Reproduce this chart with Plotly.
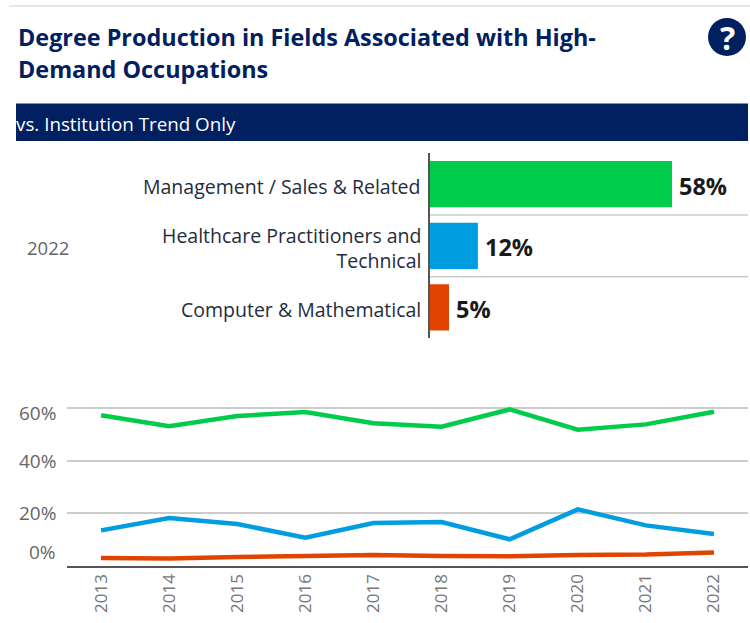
import plotly.graph_objects as go

W, H = 750, 623
NAVY = "#012060"
GREEN, BLUE, RED = "#00cc4b", "#009de0", "#e04400"
FONT = "Open Sans"

title_lines = ["Degree Production in Fields Associated with High-", "Demand Occupations"]
fields = ["Management / Sales & Related", "Healthcare Practitioners and<br>Technical", "Computer & Mathematical"]
bar_values = [58.6, 11.6, 4.6]
bar_labels = ["58%", "12%", "5%"]
bar_colors = [GREEN, BLUE, RED]
years = ["2013", "2014", "2015", "2016", "2017", "2018", "2019", "2020", "2021", "2022"]
management = [57.3, 53.1, 57.0, 58.5, 54.2, 52.9, 59.5, 51.8, 53.8, 58.6]
healthcare = [13.4, 18.1, 15.8, 10.6, 16.2, 16.6, 10.0, 21.4, 15.3, 12.0]
computer = [2.9, 2.7, 3.2, 3.4, 4.0, 3.6, 3.5, 4.0, 4.2, 5.0]
y_ticks = [0, 20, 40, 60]
y_tick_labels = ["0%", "20%", "40%", "60%"]
y_label_shift = [14, 0, 0, -5]


def py(v):
    return 1 - v / H


def px(v):
    return v / W


fig = go.Figure()
fig.add_trace(go.Bar(x=bar_values, y=fields, orientation="h", marker=dict(color=bar_colors, line_width=0),
                     width=0.75, xaxis="x", yaxis="y", showlegend=False))
for name, vals, col in [("Management / Sales & Related", management, GREEN),
                        ("Healthcare Practitioners and Technical", healthcare, BLUE),
                        ("Computer & Mathematical", computer, RED)]:
    fig.add_trace(go.Scatter(x=years, y=vals, name=name, mode="lines", line=dict(color=col, width=4.5),
                             xaxis="x2", yaxis="y2", showlegend=False))

ann = []
for line, yc in zip(title_lines, (37, 69)):
    ann.append(dict(text=f"<b>{line}</b>", xref="paper", yref="paper", x=px(16), y=py(yc), xanchor="left",
                    yanchor="middle", showarrow=False, font=dict(family=FONT, size=23.4, color=NAVY)))
ann.append(dict(text="vs. Institution Trend Only", xref="paper", yref="paper", x=px(14), y=py(124), xanchor="left",
                yanchor="middle", showarrow=False, font=dict(family=FONT, size=18.8, color="#ffffff")))
ann.append(dict(text="<b>?</b>", xref="paper", yref="paper", x=px(727), y=py(37), xanchor="center", yanchor="middle",
                showarrow=False, font=dict(family=FONT, size=32, color="#ffffff")))
ann.append(dict(text="2022", xref="paper", yref="paper", x=px(48), y=py(248), xanchor="center", yanchor="middle",
                showarrow=False, font=dict(family=FONT, size=18.5, color="#666666")))
for f, v, t in zip(fields, bar_values, bar_labels):
    ann.append(dict(text=f, x=0, y=f, xref="x", yref="y", xanchor="right", yanchor="middle", align="right", xshift=-7,
                    yshift=-2, showarrow=False, font=dict(family=FONT, size=19.5, color="#1f2d3d")))
    ann.append(dict(text=f"<b>{t}</b>", x=v, y=f, xref="x", yref="y", xanchor="left", yanchor="middle", xshift=5,
                    yshift=-1.5, showarrow=False, font=dict(family=FONT, size=23.5, color="#1a1a1a")))
for v, t, s in zip(y_ticks, y_tick_labels, y_label_shift):
    ann.append(dict(text=t, x=px(58), y=v, xref="paper", yref="y2", xanchor="right", yanchor="middle", yshift=s,
                    showarrow=False, font=dict(family=FONT, size=19, color="#666666")))

shapes = [
    dict(type="line", xref="paper", yref="paper", x0=px(9), x1=1, y0=py(6), y1=py(6), line=dict(color="#e6e6e6", width=2)),
    dict(type="rect", xref="paper", yref="paper", x0=px(16), x1=px(748), y0=py(103.5), y1=py(141), fillcolor=NAVY, line_width=0),
    dict(type="circle", xref="paper", yref="paper", x0=px(708), x1=px(746), y0=py(18), y1=py(56), fillcolor=NAVY, line_width=0),
]
for sep in (0.5, 1.5):
    shapes.append(dict(type="line", xref="x domain", yref="y", x0=0, x1=1, y0=sep, y1=sep, line=dict(color="#cccccc", width=1.5)))

fig.update_layout(
    width=W, height=H, margin=dict(l=0, r=0, t=0, b=0), paper_bgcolor="white", plot_bgcolor="white",
    font=dict(family=FONT), annotations=ann, shapes=shapes,
    xaxis=dict(domain=[px(430), px(748)], range=[0, 77], showgrid=False, showticklabels=False, zeroline=False, ticks="", automargin=False),
    yaxis=dict(domain=[py(338.3), py(153.3)], categoryorder="array", categoryarray=fields[::-1], range=[-0.5, 2.5],
               showgrid=False, zeroline=False, showline=True, linecolor="#555555", linewidth=1.5, ticks="", automargin=False,
               showticklabels=False),
    xaxis2=dict(domain=[px(67), px(748)], anchor="y2", type="category", range=[-0.5, 9.5], showgrid=False, zeroline=False, showline=True,
                linecolor="#555555", linewidth=1.5, ticks="", tickangle=-90, automargin=False, tickfont=dict(family=FONT, size=17, color="#777777")),
    yaxis2=dict(domain=[py(565.5), py(395)], anchor="x2", range=[0, 65], tickvals=y_ticks, showticklabels=False, automargin=False,
                showgrid=True, gridcolor="#cccccc", gridwidth=1.5, zeroline=False, ticks=""),
)
fig.write_html("out.html", post_script="document.body.style.margin='0';document.body.style.overflow='hidden';", config={"displayModeBar": False})
